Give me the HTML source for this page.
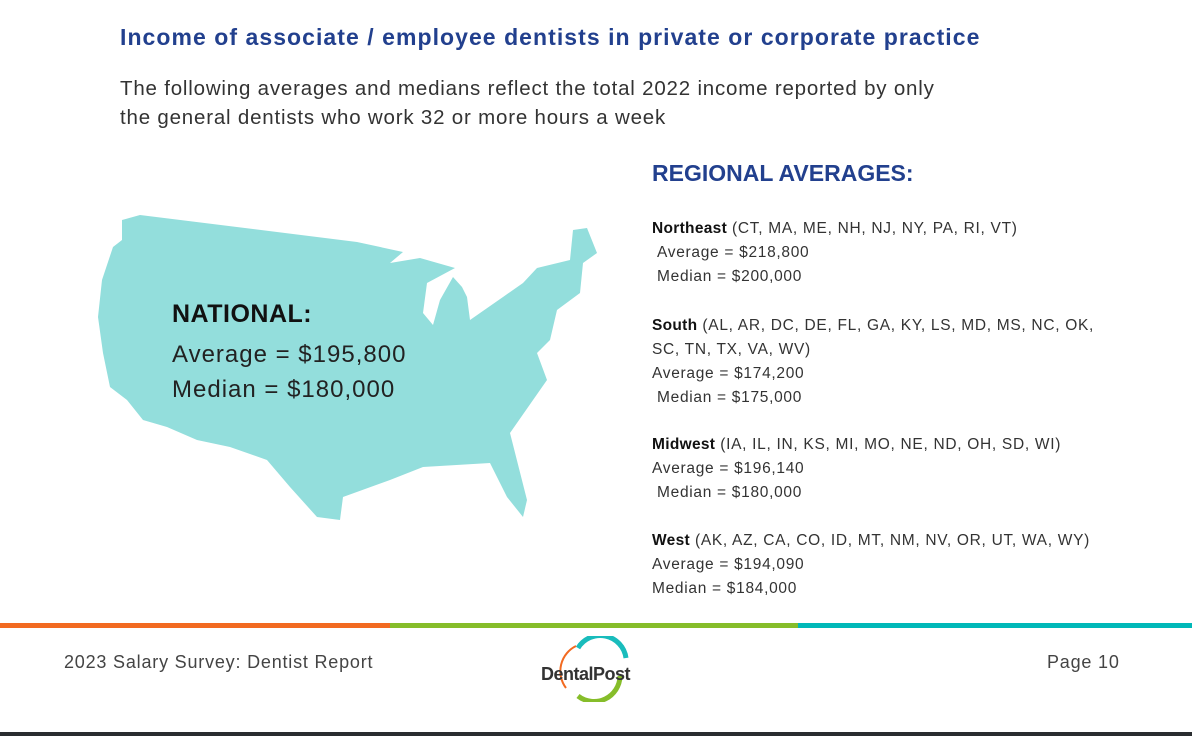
<!DOCTYPE html>
<html><head><meta charset="utf-8"><style>
body{margin:0;width:1192px;height:736px;background:#fff;position:relative;overflow:hidden;font-family:"Liberation Sans",sans-serif;}
.a{position:absolute;white-space:nowrap;}
.reg{font-size:15.5px;color:#333;line-height:24px;letter-spacing:0.7px;}
.reg b{color:#111;letter-spacing:0.3px;}
</style></head><body>
<div class="a" style="left:120px;top:24px;font-size:23px;font-weight:bold;color:#22408e;letter-spacing:1.05px;">Income of associate / employee dentists in private or corporate practice</div>
<div class="a" style="left:120px;top:74px;font-size:20.5px;color:#333;line-height:29px;letter-spacing:0.8px;">The following averages and medians reflect the total 2022 income reported by only<br>the general dentists who work 32 or more hours a week</div>
<svg class="a" style="left:0;top:0" width="1192" height="736">
<polygon fill="#93dedc" points="122,220 140,215 357,242 403,252 390,263 420,258 455,268 427,283 423,313 433,325 440,300 453,277 462,287 467,297 470,320 503,297 523,283 537,268 570,260 573,230 587,228 597,253 583,263 580,293 557,310 550,340 537,353 547,380 510,433 527,500 523,517 507,497 490,463 423,467 390,480 343,497 340,520 317,517 290,487 267,460 230,447 197,440 167,427 143,420 127,400 110,387 103,353 98,317 102,280 113,247 122,240"/>
</svg>
<div class="a" style="left:172px;top:300px;font-size:25px;font-weight:bold;color:#111;letter-spacing:0.5px;">NATIONAL:</div>
<div class="a" style="left:172px;top:337px;font-size:24px;color:#222;line-height:35px;letter-spacing:1px;">Average = $195,800<br>Median = $180,000</div>
<div class="a" style="left:652px;top:160px;font-size:23px;font-weight:bold;color:#22408e;">REGIONAL AVERAGES:</div>
<div class="a reg" style="left:652px;top:217px;"><b>Northeast</b> (CT, MA, ME, NH, NJ, NY, PA, RI, VT)<br>&nbsp;Average = $218,800<br>&nbsp;Median = $200,000</div>
<div class="a reg" style="left:652px;top:314px;"><b>South</b> (AL, AR, DC, DE, FL, GA, KY, LS, MD, MS, NC, OK,<br>SC, TN, TX, VA, WV)<br>Average = $174,200<br>&nbsp;Median = $175,000</div>
<div class="a reg" style="left:652px;top:433px;"><b>Midwest</b> (IA, IL, IN, KS, MI, MO, NE, ND, OH, SD, WI)<br>Average = $196,140<br>&nbsp;Median = $180,000</div>
<div class="a reg" style="left:652px;top:529px;"><b>West</b> (AK, AZ, CA, CO, ID, MT, NM, NV, OR, UT, WA, WY)<br>Average = $194,090<br>Median = $184,000</div>
<div class="a" style="left:0;top:623px;width:390px;height:5px;background:#f26a21;"></div>
<div class="a" style="left:390px;top:623px;width:408px;height:5px;background:#86bd2a;"></div>
<div class="a" style="left:798px;top:623px;width:394px;height:5px;background:#00b8b8;"></div>
<div class="a" style="left:64px;top:652px;font-size:18px;color:#444;letter-spacing:0.8px;">2023 Salary Survey: Dentist Report</div>
<svg class="a" style="left:536px;top:636px" width="120" height="66">
<path d="M42,12 A26,26 0 0 1 90,22" stroke="#19bcbc" stroke-width="5" fill="none"/>
<path d="M84,40 A26,26 0 0 1 42,60" stroke="#86bd2a" stroke-width="5" fill="none"/>
<path d="M40,10 A28,28 0 0 0 30,52" stroke="#f26a21" stroke-width="2" fill="none"/>
<text x="5" y="44" font-family="Liberation Sans" font-size="18" fill="#333" font-weight="bold" letter-spacing="-0.5">DentalPost</text>
</svg>
<div class="a" style="left:1047px;top:652px;font-size:18px;color:#444;letter-spacing:0.8px;">Page 10</div>
<div class="a" style="left:0;top:732px;width:1192px;height:4px;background:#2a2d30;"></div>
</body></html>
